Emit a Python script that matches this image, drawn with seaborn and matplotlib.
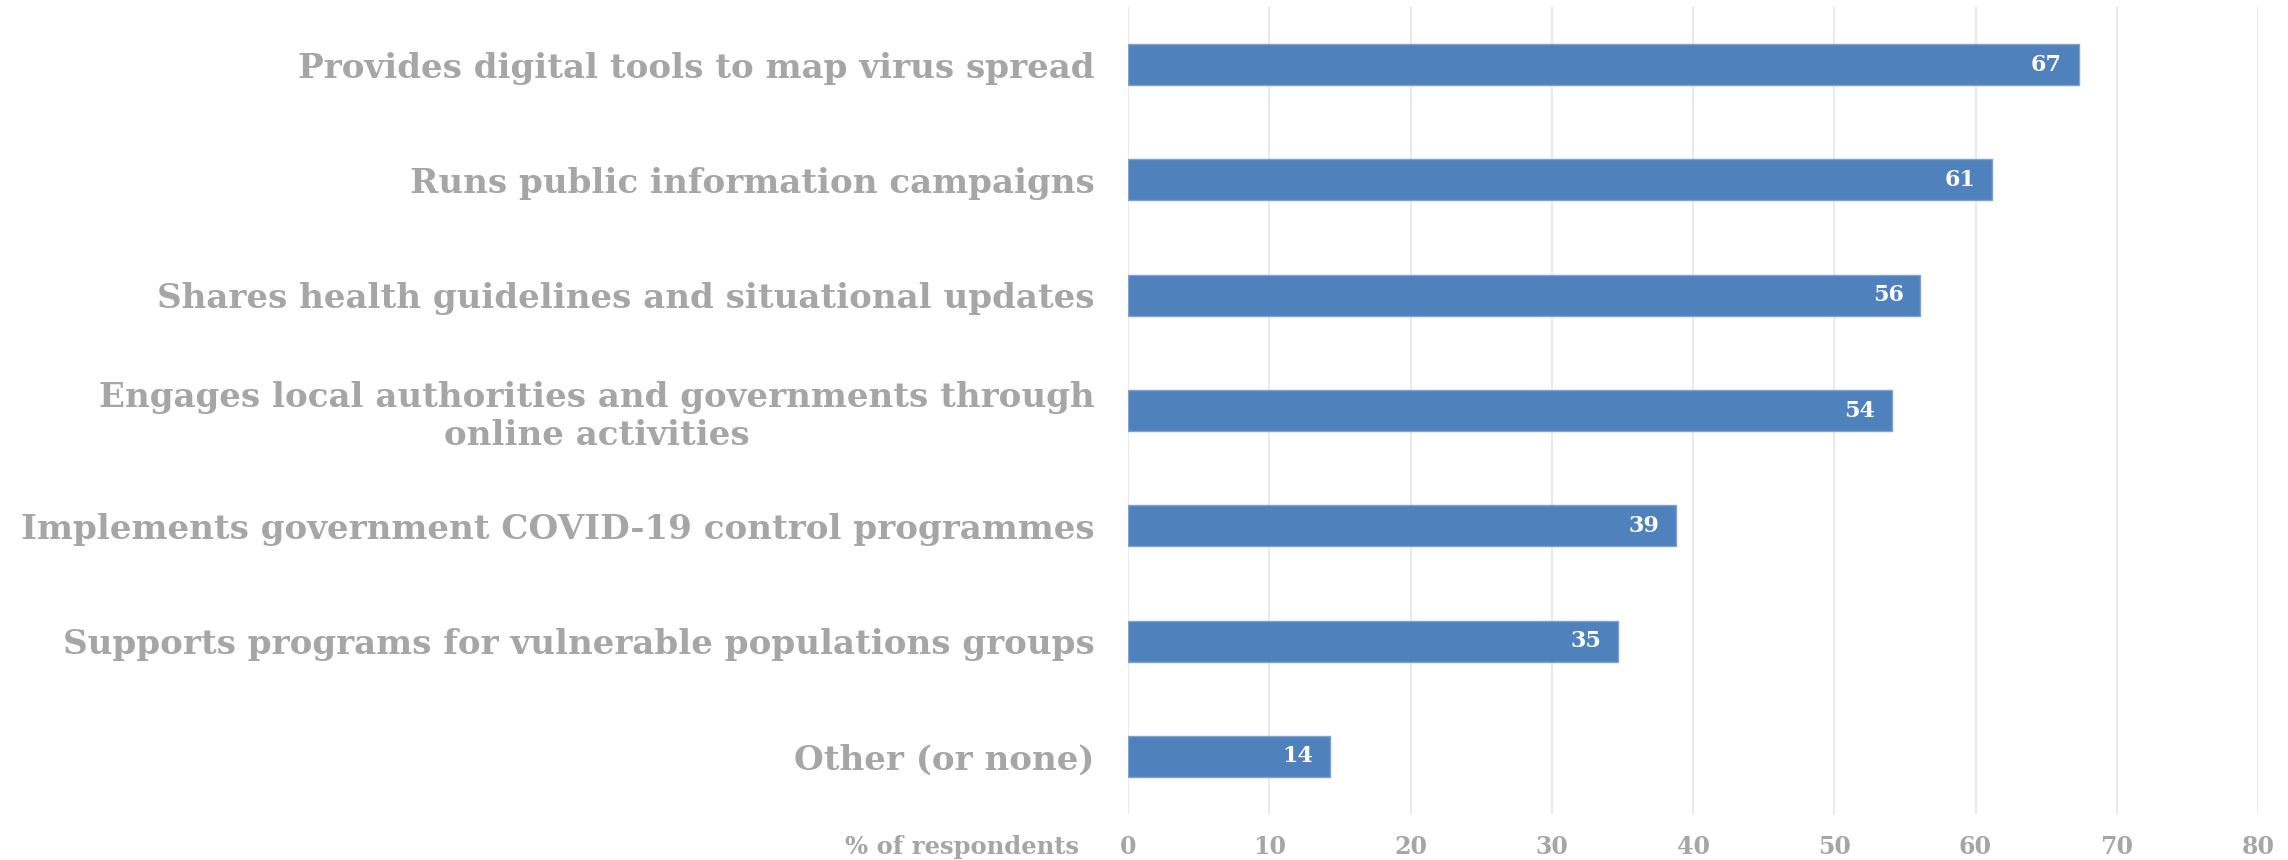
import matplotlib
matplotlib.use("Agg")
import matplotlib.pyplot as plt
import seaborn as sns
import pandas as pd

categories = [
    "Provides digital tools to map virus spread",
    "Runs public information campaigns",
    "Shares health guidelines and situational updates",
    "Engages local authorities and governments through\nonline activities",
    "Implements government COVID-19 control programmes",
    "Supports programs for vulnerable populations groups",
    "Other (or none)",
]
values = [67.3, 61.2, 56.1, 54.1, 38.8, 34.7, 14.3]
x_ticks = [0, 10, 20, 30, 40, 50, 60, 70, 80]
x_label = "% of respondents"

df = pd.DataFrame({"category": categories, "value": values})

sns.set_theme(style="white")
plt.rcParams["font.family"] = ["DejaVu Serif"]

W, H = 2288, 860
fig = plt.figure(figsize=(W / 100, H / 100), dpi=100)
ax = fig.add_axes([1128 / W, 1 - 814 / H, (2258 - 1128) / W, (814 - 7) / H])

sns.barplot(data=df, x="value", y="category", orient="h", color="#4F81BD",
            saturation=1, width=0.355, ax=ax, edgecolor="#7FA3D1", linewidth=1)

ax.set_xlim(0, 80)
ax.set_ylim(6.5, -0.5)
ax.set_xticks(x_ticks)
ax.grid(axis="x", color="#E6E6E6", linewidth=1.2)
ax.set_axisbelow(True)
for s in ax.spines.values():
    s.set_visible(False)
ax.set_xlabel("")
ax.set_ylabel("")

grey = "#A6A6A6"
ax.tick_params(axis="y", length=0, pad=24, labelsize=24.6, labelcolor=grey)
ax.tick_params(axis="x", length=0, pad=15, labelsize=17, labelcolor=grey)
for t in ax.get_yticklabels():
    t.set_fontweight("bold")
    t.set_multialignment("center")
for t in ax.get_xticklabels():
    t.set_fontweight("bold")

for i, v in enumerate(values):
    ax.annotate(f"{v:.0f}", xy=(v, i), xytext=(-12, 0), textcoords="offset points",
                ha="right", va="center", color="white", fontweight="bold", fontsize=16)

fig.text(1079 / W, 1 - 847 / H, x_label, ha="right", va="center", color=grey,
         fontweight="bold", fontsize=17.5)

fig.savefig("out.png", dpi=100, facecolor="white")
